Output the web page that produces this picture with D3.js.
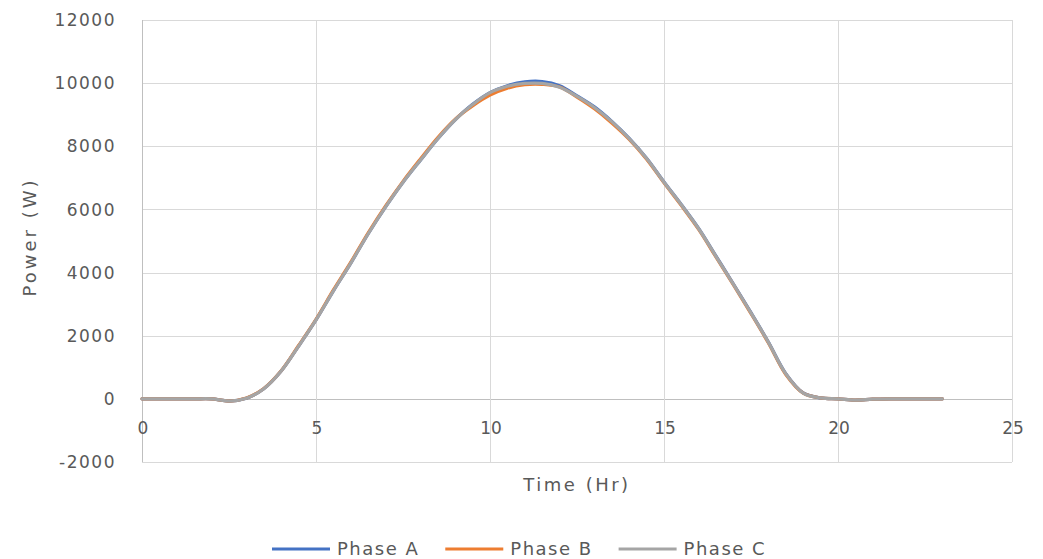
<!DOCTYPE html>
<html>
<head>
<meta charset="utf-8">
<script src="https://cdn.jsdelivr.net/npm/d3@7"></script>
<style>
  html, body { margin: 0; padding: 0; background: #ffffff; }
  svg { display: block; font-family: "DejaVu Sans", Verdana, sans-serif; }
</style>
</head>
<body>
<svg id="chart" width="1043" height="559"></svg>
<script>
// ---- data ----
const hours = [0,0.5,1,1.5,2,2.5,3,3.5,4,4.5,5,5.5,6,6.5,7,7.5,8,8.5,9,9.5,10,10.5,11,11.5,12,12.5,13,13.5,14,14.5,15,15.5,16,16.5,17,17.5,18,18.5,19,19.5,20,20.5,21,21.5,22,22.5,23];
const phaseA = [0,0,0,0,0,-70,20,320,880,1670,2500,3420,4300,5230,6080,6860,7560,8240,8840,9330,9700,9920,10040,10050,9920,9600,9250,8790,8250,7620,6870,6150,5390,4510,3630,2730,1800,800,190,30,0,-40,-10,0,0,0,0];
const phaseB = [0,0,0,0,0,-70,25,330,890,1690,2520,3450,4330,5260,6110,6890,7600,8280,8860,9280,9620,9840,9950,9960,9880,9560,9190,8740,8220,7590,6840,6120,5360,4480,3600,2700,1770,770,180,30,0,-40,-10,0,0,0,0];
const phaseC = [0,0,0,0,0,-70,20,320,880,1670,2500,3420,4300,5230,6080,6860,7560,8240,8840,9320,9700,9900,9990,9990,9870,9580,9230,8780,8240,7610,6860,6140,5380,4500,3620,2720,1790,790,180,30,0,-40,-10,0,0,0,0];
const seriesNames = ["Phase A", "Phase B", "Phase C"];
const seriesColors = ["#4472C4", "#ED7D31", "#A5A5A5"];
const xTicks = [0,5,10,15,20,25];
const yTicks = [-2000,0,2000,4000,6000,8000,10000,12000];
const xTitle = "Time (Hr)";
const yTitle = "Power (W)";

// ---- layout ----
const svg = d3.select("#chart");
const pLeft = 142, pRight = 1012, pTop = 20, pBottom = 462;
const x = d3.scaleLinear().domain([0, 25]).range([pLeft, pRight]);
const y = d3.scaleLinear().domain([-2000, 12000]).range([pBottom, pTop]);
const textColor = "#595959";
const gridColor = "#d9d9d9";

// gridlines
svg.append("g").selectAll("line").data(yTicks).join("line")
  .attr("x1", pLeft).attr("x2", pRight)
  .attr("y1", d => Math.round(y(d)) + 0.5).attr("y2", d => Math.round(y(d)) + 0.5)
  .attr("stroke", d => d === 0 ? "#bfbfbf" : gridColor).attr("stroke-width", 1);
svg.append("g").selectAll("line").data(xTicks).join("line")
  .attr("y1", pTop).attr("y2", pBottom)
  .attr("x1", d => Math.round(x(d)) + 0.5).attr("x2", d => Math.round(x(d)) + 0.5)
  .attr("stroke", d => d === 0 ? "#bfbfbf" : gridColor).attr("stroke-width", 1);

// y tick labels
svg.append("g").selectAll("text").data(yTicks).join("text")
  .attr("x", 116).attr("y", d => y(d)).attr("dy", "0.36em")
  .attr("text-anchor", "end")
  .attr("font-size", 17).attr("letter-spacing", 1.5)
  .attr("fill", textColor)
  .text(d => d);

// x tick labels (below zero line)
svg.append("g").selectAll("text").data(xTicks).join("text")
  .attr("x", d => x(d) + 1).attr("y", y(0) + 35)
  .attr("text-anchor", "middle")
  .attr("font-size", 17)
  .attr("fill", textColor)
  .text(d => d);

// axis titles
svg.append("text")
  .attr("x", (pLeft + pRight) / 2).attr("y", 491)
  .attr("text-anchor", "middle").attr("font-size", 18).attr("letter-spacing", 2.5)
  .attr("fill", textColor).text(xTitle);
svg.append("text")
  .attr("transform", `translate(36,237) rotate(-90)`)
  .attr("text-anchor", "middle").attr("font-size", 18).attr("letter-spacing", 3)
  .attr("fill", textColor).text(yTitle);

// lines
const allSeries = [phaseA, phaseB, phaseC];
const line = d3.line()
  .x((d, i) => x(hours[i]))
  .y(d => y(d))
  .curve(d3.curveCatmullRom.alpha(0.5));
svg.append("g").selectAll("path").data(allSeries).join("path")
  .attr("d", d => line(d))
  .attr("fill", "none")
  .attr("stroke", (d, i) => seriesColors[i])
  .attr("stroke-width", 3.2)
  .attr("stroke-linejoin", "round")
  .attr("stroke-linecap", "round");

// legend
const legend = svg.append("g");
let lx = 272;
const ly = 549;
seriesNames.forEach((name, i) => {
  legend.append("line")
    .attr("x1", lx).attr("x2", lx + 58).attr("y1", ly).attr("y2", ly)
    .attr("stroke", seriesColors[i]).attr("stroke-width", 3);
  const t = legend.append("text")
    .attr("x", lx + 65).attr("y", ly + 6)
    .attr("font-size", 18).attr("letter-spacing", 1.5)
    .attr("fill", textColor).text(name);
  const w = t.node().getComputedTextLength();
  lx = lx + 65 + w + 26;
});
</script>
</body>
</html>
